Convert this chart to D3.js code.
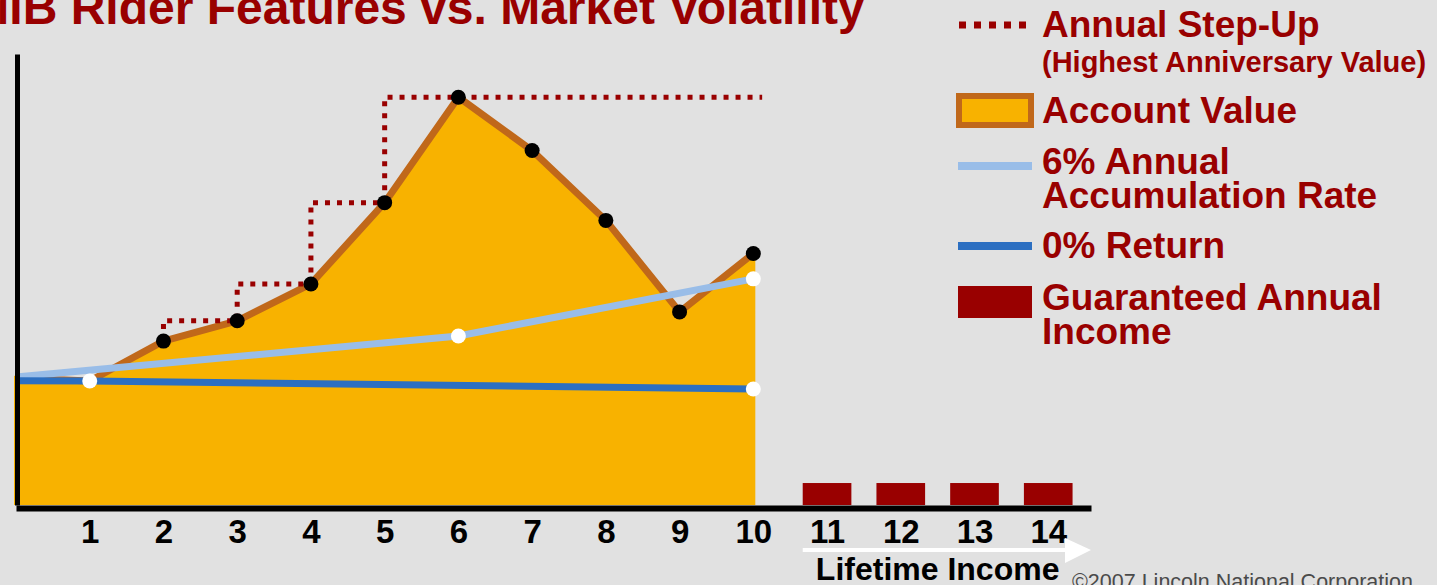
<!DOCTYPE html>
<html>
<head>
<meta charset="utf-8">
<script src="https://cdn.jsdelivr.net/npm/d3@7"></script>
<style>
  body { margin: 0; background: #e1e1e1; }
  svg { display: block; font-family: "Liberation Sans", Arial, sans-serif; }
</style>
</head>
<body>
<script>
// Data (account value units, start = 100)
var years = [0, 1, 2, 3, 4, 5, 6, 7, 8, 9, 10];
var accountValue = [100, 97.6, 129, 145, 174, 238, 321, 279, 224, 152, 198];

// Annual step-up (highest anniversary value), drawn from year 2
var stepYears = [2, 3, 4, 5, 6, 7, 8, 9, 10, 10.12];
var stepValues = [129, 145, 174, 238, 321, 321, 321, 321, 321, 321];

// 6% annual accumulation rate
var accumYears = [0, 6, 10];
var accumValues = [100.8, 133, 178];
var accumDots = [6, 10];

// 0% return
var zeroYears = [0, 1, 10];
var zeroValues = [97.8, 97.6, 91.3];
var zeroDots = [1, 10];

// Guaranteed annual income
var incomeYears = [11, 12, 13, 14];
var incomeValues = [17.3, 17.3, 17.3, 17.3];

var tickLabels = [1, 2, 3, 4, 5, 6, 7, 8, 9, 10, 11, 12, 13, 14];

var red = "#990000",
    gold = "#f8b200",
    rust = "#c0681a",
    lightBlue = "#99bde8",
    darkBlue = "#2c6fc1";

var width = 1437, height = 585;

var svg = d3.select("body")
  .append("svg")
    .attr("width", width)
    .attr("height", height);

svg.append("rect")
  .attr("width", width)
  .attr("height", height)
  .attr("fill", "#e1e1e1");

// Scales
var x = d3.scaleLinear()
  .domain([0, 14.58])
  .range([16, 1091]);

var y = d3.scaleLinear()
  .domain([0, 355])
  .range([505, 54]);

function pts(xs, vs) {
  return xs.map(function(d, i) { return [d, vs[i]]; });
}

// Account value area
svg.append("path")
  .datum(pts(years, accountValue))
  .attr("fill", gold)
  .attr("stroke", gold)
  .attr("stroke-width", 4)
  .attr("d", d3.area()
    .x(function(d) { return x(d[0]); })
    .y0(y(0) - 2)
    .y1(function(d) { return y(d[1]); }));

var line = d3.line()
  .x(function(d) { return x(d[0]); })
  .y(function(d) { return y(d[1]); });

// Account value outline
svg.append("path")
  .datum(pts(years, accountValue))
  .attr("fill", "none")
  .attr("stroke", rust)
  .attr("stroke-width", 7)
  .attr("stroke-linejoin", "round")
  .attr("d", line);

// Step-up dotted line
svg.append("path")
  .datum(pts(stepYears, stepValues))
  .attr("fill", "none")
  .attr("stroke", red)
  .attr("stroke-width", 5)
  .attr("stroke-dasharray", "5,7")
  .attr("d", line.curve(d3.curveStepBefore));
line.curve(d3.curveLinear);

// 6% and 0% lines
svg.append("path")
  .datum(pts(accumYears, accumValues))
  .attr("fill", "none")
  .attr("stroke", lightBlue)
  .attr("stroke-width", 7)
  .attr("d", line);

svg.append("path")
  .datum(pts(zeroYears, zeroValues))
  .attr("fill", "none")
  .attr("stroke", darkBlue)
  .attr("stroke-width", 7)
  .attr("d", line);

// Black dots on account value (years 2-10)
svg.append("g")
  .selectAll("circle")
  .data(pts(years, accountValue).slice(2))
  .enter()
  .append("circle")
    .attr("cx", function(d) { return x(d[0]); })
    .attr("cy", function(d) { return y(d[1]); })
    .attr("r", 7.5)
    .attr("fill", "black");

// White dots
function valueAt(xs, vs, yr) {
  var i = 0;
  while (i < xs.length - 2 && xs[i + 1] < yr) i++;
  var t = (yr - xs[i]) / (xs[i + 1] - xs[i]);
  return vs[i] + t * (vs[i + 1] - vs[i]);
}
var whiteDots = accumDots.map(function(d) { return [d, valueAt(accumYears, accumValues, d)]; })
  .concat(zeroDots.map(function(d) { return [d, valueAt(zeroYears, zeroValues, d)]; }));

svg.append("g")
  .selectAll("circle")
  .data(whiteDots)
  .enter()
  .append("circle")
    .attr("cx", function(d) { return x(d[0]); })
    .attr("cy", function(d) { return y(d[1]); })
    .attr("r", 7.5)
    .attr("fill", "white");

// Guaranteed income bars
svg.append("g")
  .selectAll("rect")
  .data(pts(incomeYears, incomeValues))
  .enter()
  .append("rect")
    .attr("x", function(d) { return x(d[0] - 0.33); })
    .attr("width", x(0.66) - x(0))
    .attr("y", function(d) { return y(d[1]); })
    .attr("height", function(d) { return y(0) - y(d[1]); })
    .attr("fill", red);

// X axis
var xAxis = svg.append("g")
  .attr("transform", "translate(0,508)")
  .call(d3.axisBottom(x).tickValues(tickLabels).tickSize(0).tickFormat(d3.format("d")));
xAxis.select(".domain")
  .attr("stroke", "black")
  .attr("stroke-width", 6);
xAxis.selectAll("text")
  .attr("y", 35)
  .attr("dy", 0)
  .attr("fill", "black")
  .style("font-size", "33px")
  .style("font-weight", "bold")
  .style("font-family", "'Liberation Sans', Arial, sans-serif");

// Y axis
var yAxis = svg.append("g")
  .attr("transform", "translate(17,0)")
  .call(d3.axisLeft(y).tickValues([]).tickSizeOuter(0));
yAxis.select(".domain")
  .attr("stroke", "black")
  .attr("stroke-width", 5);

// Lifetime income arrow
var arrowStart = x(incomeYears[0] - 0.33),
    arrowEnd = x.range()[1];
svg.append("line")
  .attr("x1", arrowStart)
  .attr("x2", arrowEnd - 24)
  .attr("y1", 550)
  .attr("y2", 550)
  .attr("stroke", "white")
  .attr("stroke-width", 4);
svg.append("path")
  .attr("d", "M" + (arrowEnd - 26) + ",538L" + arrowEnd + ",550L" + (arrowEnd - 26) + ",563Z")
  .attr("fill", "white");

svg.append("text")
  .attr("x", (x(incomeYears[0]) + x(incomeYears[3])) / 2)
  .attr("y", 580)
  .attr("text-anchor", "middle")
  .style("font-size", "32px")
  .style("font-weight", "bold")
  .text("Lifetime Income");

// Title (cut off at the left edge, as in the slide)
svg.append("text")
  .attr("x", -68)
  .attr("y", 24)
  .attr("fill", red)
  .style("font-size", "48px")
  .style("font-weight", "bold")
  .text("GMIB Rider Features vs. Market Volatility");

// Copyright
svg.append("text")
  .attr("x", 1072)
  .attr("y", 589)
  .attr("fill", "#4a4a4a")
  .style("font-size", "21.5px")
  .text("\u00a92007 Lincoln National Corporation");

// Legend
var legend = svg.append("g");

legend.append("line")
  .attr("x1", 959).attr("x2", 1034)
  .attr("y1", 25).attr("y2", 25)
  .attr("stroke", red)
  .attr("stroke-width", 7)
  .attr("stroke-dasharray", "7,8");

legend.append("rect")
  .attr("x", 959).attr("y", 96)
  .attr("width", 72).attr("height", 29)
  .attr("fill", gold)
  .attr("stroke", rust)
  .attr("stroke-width", 6);

legend.append("line")
  .attr("x1", 958).attr("x2", 1032)
  .attr("y1", 166).attr("y2", 166)
  .attr("stroke", lightBlue)
  .attr("stroke-width", 8);

legend.append("line")
  .attr("x1", 958).attr("x2", 1032)
  .attr("y1", 246).attr("y2", 246)
  .attr("stroke", darkBlue)
  .attr("stroke-width", 8);

legend.append("rect")
  .attr("x", 958).attr("y", 286)
  .attr("width", 74).attr("height", 32)
  .attr("fill", red);

var legendText = [
  ["Annual Step-Up", 37, 37],
  ["(Highest Anniversary Value)", 72, 29],
  ["Account Value", 123, 37],
  ["6% Annual", 174, 37],
  ["Accumulation Rate", 208, 37],
  ["0% Return", 258, 37],
  ["Guaranteed Annual", 310, 37],
  ["Income", 344, 37]
];

legend.selectAll("text")
  .data(legendText)
  .enter()
  .append("text")
    .attr("x", 1042)
    .attr("y", function(d) { return d[1]; })
    .attr("fill", red)
    .style("font-weight", "bold")
    .style("font-size", function(d) { return d[2] + "px"; })
    .text(function(d) { return d[0]; });
</script>
</body>
</html>
